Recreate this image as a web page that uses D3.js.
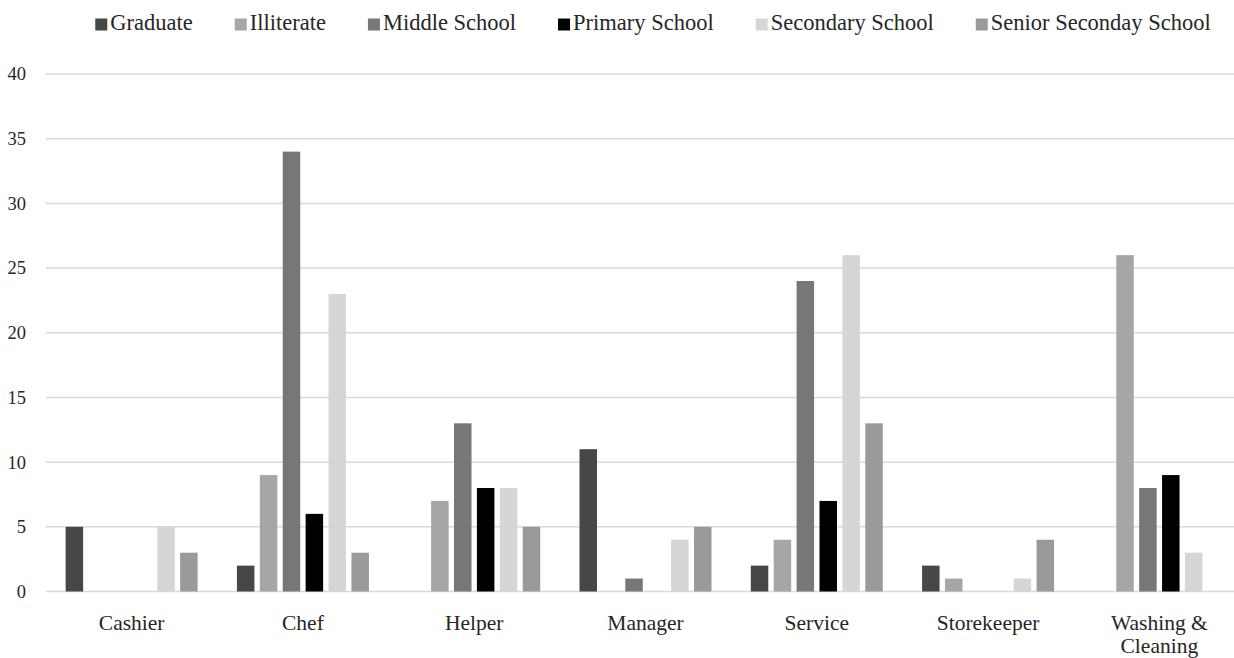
<!DOCTYPE html>
<html>
<head>
<meta charset="utf-8">
<script src="https://cdnjs.cloudflare.com/ajax/libs/d3/7.8.5/d3.min.js"></script>
<style>
  body { margin: 0; background: #fff; }
  text { font-family: "Liberation Serif", "DejaVu Serif", serif; fill: #262626; }
</style>
</head>
<body>
<script>
// data
var categories = ["Cashier", "Chef", "Helper", "Manager", "Service", "Storekeeper", "Washing & Cleaning"];
var series = ["Graduate", "Illiterate", "Middle School", "Primary School", "Secondary School", "Senior Seconday School"];
var graduate  = [5, 2, 0, 11, 2, 2, 0];
var illiterate = [0, 9, 7, 0, 4, 1, 26];
var middle    = [0, 34, 13, 1, 24, 0, 8];
var primary   = [0, 6, 8, 0, 7, 0, 9];
var secondary = [5, 23, 8, 4, 26, 1, 3];
var senior    = [3, 3, 5, 5, 13, 4, 0];
var yTicks = [0, 5, 10, 15, 20, 25, 30, 35, 40];

var values = [graduate, illiterate, middle, primary, secondary, senior];
var colors = ["#474747", "#a6a6a6", "#777777", "#000000", "#d6d6d6", "#9a9a9a"];

var W = 1234, H = 658;
var margin = {top: 74, left: 46, bottom: 66.5};
var plotW = 1199; // runs a little past the window edge, like the source
var plotH = H - margin.top - margin.bottom;

var svg = d3.select("body").append("svg")
  .attr("width", W)
  .attr("height", H);

var x0 = d3.scaleBand()
  .domain(categories)
  .range([margin.left, margin.left + plotW]);

var groupW = 137.4;
var x1 = d3.scaleBand()
  .domain(series)
  .range([(x0.bandwidth() - groupW) / 2, (x0.bandwidth() + groupW) / 2])
  .paddingInner(0.236)
  .paddingOuter(0.118);

var y = d3.scaleLinear()
  .domain([0, 40])
  .range([margin.top + plotH, margin.top]);

var color = d3.scaleOrdinal().domain(series).range(colors);

// gridlines
svg.append("g")
  .selectAll("line")
  .data(yTicks)
  .enter().append("line")
  .attr("x1", margin.left)
  .attr("x2", margin.left + plotW)
  .attr("y1", function(d){ return y(d); })
  .attr("y2", function(d){ return y(d); })
  .attr("stroke", "#d9d9d9")
  .attr("stroke-width", 1.5);

// y axis labels
var yAxis = d3.axisLeft(y).tickValues(yTicks).tickSize(0).tickPadding(20);
svg.append("g")
  .attr("transform", "translate(" + margin.left + ",0)")
  .call(yAxis)
  .call(function(g){ g.select(".domain").remove(); })
  .selectAll("text")
  .style("font-family", "Liberation Serif, serif")
  .style("font-size", "18.5px")
  .attr("fill", "#262626");

// bars
var groups = svg.append("g")
  .selectAll("g")
  .data(categories)
  .enter().append("g")
  .attr("transform", function(d){ return "translate(" + x0(d) + ",0)"; });

groups.selectAll("rect")
  .data(function(d, i){
    return series.map(function(s, j){ return {series: s, value: values[j][i]}; });
  })
  .enter().append("rect")
  .filter(function(d){ return d.value > 0; })
  .attr("x", function(d){ return x1(d.series); })
  .attr("y", function(d){ return y(d.value); })
  .attr("width", x1.bandwidth())
  .attr("height", function(d){ return y(0) - y(d.value); })
  .attr("fill", function(d){ return color(d.series); });

// x labels
var xl = svg.append("g")
  .selectAll("text")
  .data(categories)
  .enter().append("text")
  .attr("x", function(d){ return x0(d) + x0.bandwidth() / 2; })
  .attr("y", 630)
  .attr("text-anchor", "middle")
  .style("font-size", "21.5px");

xl.each(function(d){
  var parts = d === "Washing & Cleaning" ? ["Washing &", "Cleaning"] : [d];
  var t = d3.select(this);
  parts.forEach(function(p, k){
    t.append("tspan")
      .attr("x", x0(d) + x0.bandwidth() / 2)
      .attr("dy", k === 0 ? 0 : 23)
      .text(p);
  });
});

// legend
var legend = svg.append("g");
var items = legend.selectAll("g")
  .data(series)
  .enter().append("g");

items.append("rect")
  .attr("width", 12)
  .attr("height", 12)
  .attr("y", 18.5)
  .attr("fill", function(d){ return color(d); });

items.append("text")
  .attr("x", 15)
  .attr("y", 30)
  .style("font-size", "22.5px")
  .text(function(d){ return d; });

var pos = 0;
var gap = 42;
items.each(function(){
  var w = 15 + d3.select(this).select("text").node().getComputedTextLength();
  d3.select(this).attr("transform", "translate(" + pos + ",0)");
  pos += w + gap;
});
var totalW = pos - gap;
legend.attr("transform", "translate(" + (653 - totalW / 2) + ",0)");
</script>
</body>
</html>
